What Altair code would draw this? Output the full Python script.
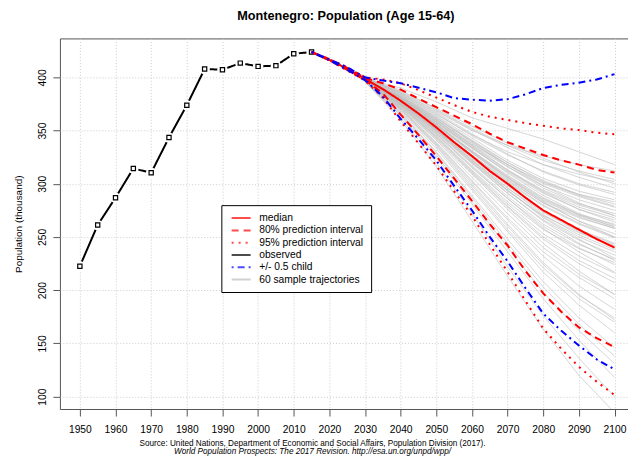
import altair as alt
import pandas as pd

FONT = "Liberation Sans"
FRAME = "#555555"

# ---------------- data ----------------
obs_years = [1950, 1955, 1960, 1965, 1970, 1975, 1980, 1985, 1990, 1995, 2000, 2005, 2010, 2015]
obs_values = [222.5, 261.3, 286.9, 314.4, 310.3, 343.4, 373.8, 407.8, 407.2, 413.4, 410.3, 411.0, 422.2, 423.8]

proj_years = [2015, 2020, 2025, 2030, 2035, 2040, 2045, 2050, 2055, 2060,
              2065, 2070, 2075, 2080, 2085, 2090, 2095, 2100]
median = [423.8, 416.5, 408.0, 398.5, 389.0, 378.0, 366.0, 353.0, 339.0, 326.0,
          312.0, 300.0, 287.0, 275.0, 266.0, 257.0, 248.0, 240.0]
pi80_upper = [423.8, 417.0, 409.0, 399.5, 394.5, 388.5, 380.0, 372.0, 364.0, 356.0,
              347.0, 339.0, 333.0, 327.0, 322.0, 318.0, 313.0, 310.5]
pi80_lower = [423.8, 416.0, 407.0, 397.5, 385.0, 365.0, 346.0, 326.0, 305.0, 284.0,
              262.0, 242.0, 218.0, 197.0, 180.0, 165.0, 155.0, 146.5]
pi95_upper = [423.8, 417.0, 409.5, 400.0, 398.0, 394.5, 388.0, 381.0, 374.0, 367.5,
              363.0, 360.0, 357.0, 354.5, 352.0, 350.5, 348.0, 346.5]
pi95_lower = [423.8, 416.0, 406.5, 397.0, 381.0, 358.5, 338.0, 317.0, 293.0, 270.0,
              243.0, 217.0, 190.0, 164.0, 145.0, 128.0, 114.0, 101.5]
child_upper = [423.8, 417.0, 409.5, 400.0, 397.0, 394.5, 390.3, 386.0, 380.5, 379.0,
               378.0, 379.5, 384.0, 390.0, 393.0, 395.0, 398.0, 403.0]
child_lower = [423.8, 416.0, 407.0, 397.5, 382.0, 361.0, 342.0, 322.0, 298.0, 275.0,
               250.0, 227.0, 202.0, 178.0, 162.0, 148.0, 135.0, 125.5]

sample_start_years = [2015, 2020, 2025]
sample_start_values = [423.8, 416.5, 408.0]
sample_years = [2030, 2040, 2050, 2060, 2070, 2080, 2090, 2100]
samples = [
    [399, 388, 370, 352, 336, 322, 312, 304],
    [398, 381, 360, 337, 318, 300, 288, 278],
    [398, 377, 351, 322, 294, 268, 248, 230],
    [397, 372, 342, 309, 276, 244, 218, 196],
    [399, 384, 364, 343, 322, 305, 293, 285],
    [398, 379, 355, 330, 306, 283, 265, 250],
    [398, 375, 347, 316, 286, 258, 236, 217],
    [397, 368, 333, 294, 255, 217, 186, 160],
    [399, 386, 368, 350, 336, 326, 318, 312],
    [398, 380, 357, 333, 311, 291, 276, 264],
    [398, 376, 349, 320, 293, 270, 254, 242],
    [397, 371, 339, 303, 268, 236, 212, 192],
    [398, 382, 361, 340, 320, 303, 290, 281],
    [398, 378, 353, 327, 303, 282, 268, 258],
    [398, 374, 345, 313, 283, 257, 239, 226],
    [397, 366, 329, 287, 244, 203, 168, 138],
    [399, 385, 366, 345, 327, 312, 300, 292],
    [398, 380, 358, 335, 313, 294, 280, 270],
    [398, 377, 352, 325, 299, 275, 257, 244],
    [397, 373, 343, 310, 278, 248, 225, 207],
    [399, 390, 377, 362, 352, 342, 330, 318],
    [398, 381, 359, 336, 316, 298, 285, 275],
    [398, 376, 350, 322, 296, 273, 255, 240],
    [397, 370, 337, 300, 262, 226, 196, 172],
    [398, 383, 363, 341, 320, 302, 289, 279],
    [398, 379, 356, 331, 308, 287, 271, 259],
    [398, 375, 348, 319, 291, 265, 244, 228],
    [396, 362, 320, 272, 222, 176, 136, 100],
    [399, 384, 365, 346, 330, 318, 309, 302],
    [398, 380, 358, 334, 312, 293, 278, 268],
    [398, 377, 351, 324, 298, 274, 256, 243],
    [397, 372, 341, 306, 272, 240, 215, 196],
    [398, 381, 360, 338, 318, 301, 290, 283],
    [398, 378, 354, 329, 305, 284, 269, 258],
    [397, 374, 346, 315, 286, 260, 240, 224],
    [396, 364, 325, 281, 236, 192, 153, 118],
    [399, 386, 369, 351, 334, 318, 306, 296],
    [398, 379, 356, 330, 306, 285, 270, 260],
    [398, 376, 349, 320, 291, 266, 247, 233],
    [397, 369, 335, 296, 257, 221, 192, 170],
    [398, 382, 362, 340, 318, 298, 282, 270],
    [398, 378, 352, 326, 301, 279, 262, 249],
    [397, 373, 344, 311, 279, 250, 228, 211],
    [396, 360, 316, 265, 213, 163, 120, 85],
    [399, 385, 367, 347, 328, 311, 299, 290],
    [398, 381, 358, 334, 310, 289, 272, 261],
    [398, 377, 351, 323, 296, 271, 252, 238],
    [397, 371, 338, 302, 266, 232, 204, 182],
    [398, 383, 362, 339, 316, 296, 281, 272],
    [398, 379, 355, 329, 304, 282, 265, 253],
    [397, 375, 347, 317, 288, 262, 243, 229],
    [397, 367, 330, 289, 248, 208, 174, 146],
    [399, 387, 371, 354, 338, 324, 311, 300],
    [398, 380, 356, 331, 307, 286, 271, 262],
    [398, 376, 350, 321, 294, 269, 250, 236],
    [397, 370, 336, 298, 260, 224, 195, 174],
    [398, 382, 360, 336, 313, 292, 276, 266],
    [398, 378, 353, 327, 302, 280, 263, 250],
    [397, 374, 344, 312, 281, 253, 232, 216],
    [396, 365, 327, 284, 240, 198, 162, 131],
]

x_ticks = [1950, 1960, 1970, 1980, 1990, 2000, 2010, 2020, 2030, 2040,
           2050, 2060, 2070, 2080, 2090, 2100]
y_ticks = [100, 150, 200, 250, 300, 350, 400]

kinds = ["median", "80% prediction interval", "95% prediction interval",
         "observed", "+/- 0.5 child", "60 sample trajectories"]

title_text = "Montenegro: Population (Age 15-64)"
y_title = "Population (thousand)"
caption1 = "Source: United Nations, Department of Economic and Social Affairs, Population Division (2017)."
caption2 = "World Population Prospects: The 2017 Revision. http://esa.un.org/unpd/wpp/"

# ---------------- styles ----------------
kind_colors = ["#FF0000", "#FF0000", "#FF0000", "#000000", "#0000FF", "#BEBEBE"]
kind_dashes = [[1, 0], [7, 5], [2, 5], [1, 0], [2, 4, 7, 4], [1, 0]]

X_DOMAIN = [1944.4, 2104.9]
Y_DOMAIN = [88.3, 436.6]

# ---------------- tables ----------------
gray_rows = []
for i, s in enumerate(samples):
    for yr, v in zip(sample_start_years + sample_years, sample_start_values + s):
        gray_rows.append({"year": yr, "value": v, "kind": kinds[5], "series": f"s{i}"})
gray_df = pd.DataFrame(gray_rows)

red_rows = []
for kind, name, vals in [(kinds[0], "median", median),
                         (kinds[1], "pi80u", pi80_upper), (kinds[1], "pi80l", pi80_lower),
                         (kinds[2], "pi95u", pi95_upper), (kinds[2], "pi95l", pi95_lower)]:
    for yr, v in zip(proj_years, vals):
        red_rows.append({"year": yr, "value": v, "kind": kind, "series": name})
red_df = pd.DataFrame(red_rows)

blue_rows = []
for name, vals in [("cu", child_upper), ("cl", child_lower)]:
    for yr, v in zip(proj_years, vals):
        blue_rows.append({"year": yr, "value": v, "kind": kinds[4], "series": name})
blue_df = pd.DataFrame(blue_rows)

obs_df = pd.DataFrame({"year": obs_years, "value": obs_values, "kind": kinds[3]})

# ---------------- encodings ----------------
x_enc = alt.X("year:Q",
              scale=alt.Scale(domain=X_DOMAIN, nice=False, zero=False),
              axis=alt.Axis(values=x_ticks, format="d", title=None,
                            labelFont=FONT, labelFontSize=10.3, labelColor="#000000",
                            labelPadding=8.8, tickSize=7, tickColor=FRAME,
                            grid=True, gridColor="#cccccc", gridDash=[1, 2],
                            domain=False, labelFlush=False, labelOverlap=False))
y_enc = alt.Y("value:Q",
              scale=alt.Scale(domain=Y_DOMAIN, nice=False, zero=False),
              axis=alt.Axis(values=y_ticks, title=y_title,
                            labelFont=FONT, labelFontSize=10.3, labelColor="#000000",
                            labelAngle=270, labelAlign="center", labelBaseline="bottom",
                            labelPadding=5.6, tickSize=7, tickColor=FRAME,
                            grid=True, gridColor="#cccccc", gridDash=[1, 2],
                            domain=False, labelFlush=False, labelOverlap=False,
                            titleFont=FONT, titleFontSize=10, titleFontWeight="normal",
                            titleColor="#000000", titlePadding=13.6))

legend = alt.Legend(orient="none", legendX=161.7, legendY=167, title=None,
                    symbolType="M-0.54,0H3.26", symbolSize=100, symbolStrokeWidth=2,
                    labelFont=FONT, labelFontSize=10.3, labelColor="#000000",
                    labelOffset=18.9, padding=7, rowPadding=0.3,
                    strokeColor="#000000", fillColor="#ffffff", cornerRadius=0)

color_enc = alt.Color("kind:N", scale=alt.Scale(domain=kinds, range=kind_colors), legend=legend)
dash_enc = alt.StrokeDash("kind:N", scale=alt.Scale(domain=kinds, range=kind_dashes), legend=legend)

gray = alt.Chart(gray_df).mark_line(strokeWidth=1, opacity=0.7, clip=True).encode(
    x=x_enc, y=y_enc, color=color_enc, strokeDash=dash_enc, detail="series:N")

obs_line = alt.Chart(obs_df).mark_line(strokeWidth=2, clip=True).encode(
    x=x_enc, y=y_enc, color=color_enc, strokeDash=dash_enc)
obs_gap = alt.Chart(obs_df).mark_point(shape="circle", filled=True, size=110,
                                       color="#ffffff", opacity=1).encode(x=x_enc, y=y_enc)
obs_pts = alt.Chart(obs_df).mark_square(size=18, filled=True, fill="#ffffff",
                                        stroke="#000000", strokeWidth=1.2,
                                        opacity=1).encode(x=x_enc, y=y_enc)

red = alt.Chart(red_df).mark_line(strokeWidth=2, clip=True).encode(
    x=x_enc, y=y_enc, color=color_enc, strokeDash=dash_enc, detail="series:N")
blue = alt.Chart(blue_df).mark_line(strokeWidth=2, clip=True).encode(
    x=x_enc, y=y_enc, color=color_enc, strokeDash=dash_enc, detail="series:N")

inner = alt.layer(gray, obs_line, obs_gap, obs_pts, red, blue).properties(
    width=573, height=371.2,
    title=alt.Title(title_text, font=FONT, fontSize=12.7, fontWeight="bold",
                    color="#000000", anchor="middle", frame="group", offset=15.6))

chart = alt.vconcat(
    inner,
    title=alt.Title(text=caption1, subtitle=caption2, orient="bottom", anchor="middle",
                    frame="group", dx=-33.5, font=FONT, fontSize=8.2, fontWeight="normal",
                    color="#000000", subtitleFont=FONT, subtitleFontSize=8.2,
                    subtitleFontStyle="italic", subtitleColor="#000000",
                    offset=4.2, subtitlePadding=0),
).configure(
    padding={"left": 5.0, "top": 1.1, "right": -5, "bottom": -0.6},
).configure_view(
    stroke=FRAME, strokeWidth=1
)

chart.save("out.html", embed_options={"renderer": "svg", "actions": False})
